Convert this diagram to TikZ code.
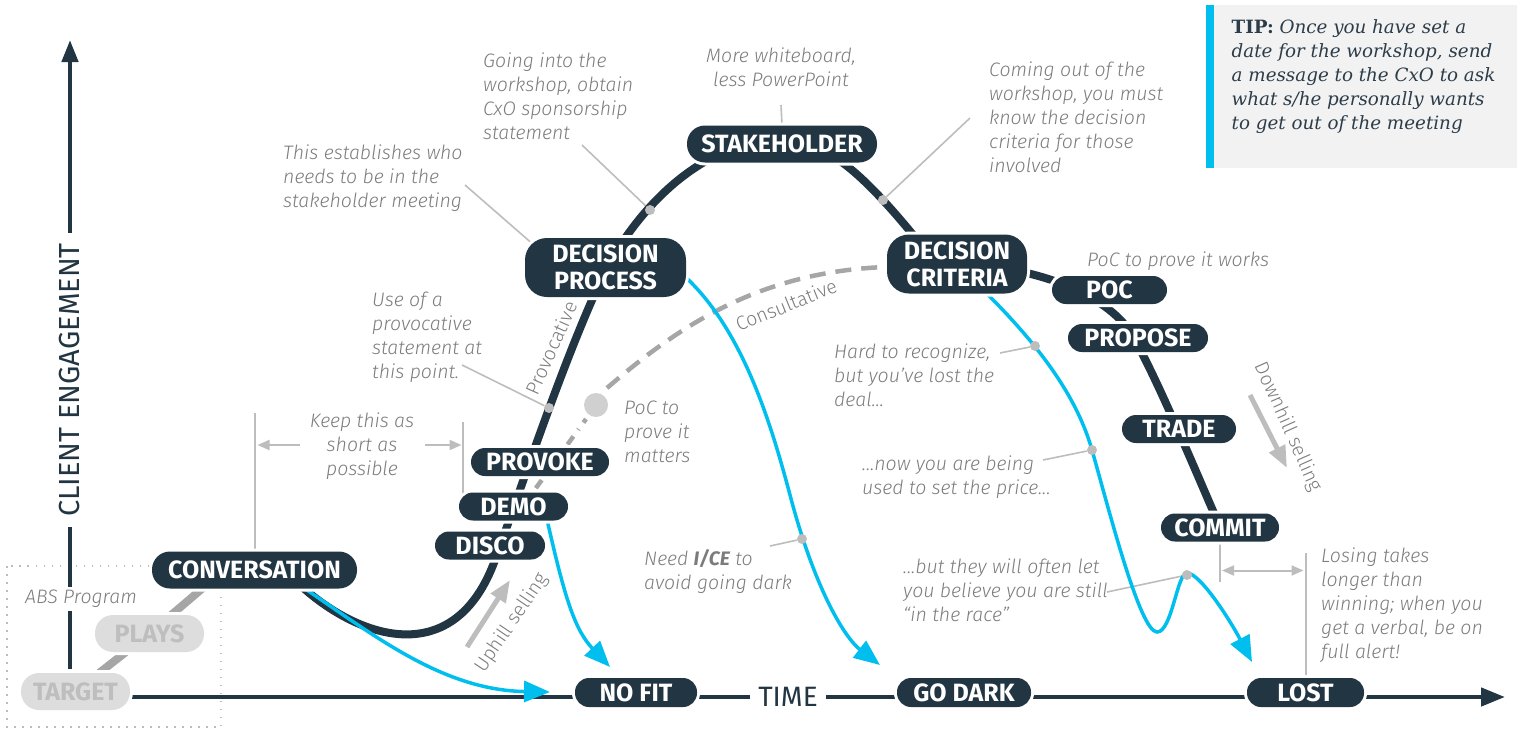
\documentclass[tikz,border=0pt]{standalone}
\usepackage{fontspec}
\setmainfont{Fira Sans}
\newfontfamily\lightfont{Fira Sans Light}[ItalicFont={Fira Sans Light Italic},BoldItalicFont={Fira Sans Bold Italic}]
\newfontfamily\tipfont{DejaVu Serif}
\usetikzlibrary{arrows.meta}

\definecolor{navy}{HTML}{223542}
\definecolor{cyanline}{HTML}{00BFEF}
\definecolor{notegray}{HTML}{7C7C7C}
\definecolor{leadgray}{HTML}{BDBDBD}
\definecolor{pathgray}{HTML}{A6A6A6}
\definecolor{ghostfill}{HTML}{DDDDDD}
\definecolor{ghosttext}{HTML}{BEBEBE}
\definecolor{tipbg}{HTML}{F2F2F2}
\definecolor{tipink}{HTML}{2C3C48}
\definecolor{dotgray}{HTML}{D0D0D0}

\newcommand\stagefont{\fontsize{25}{27}\selectfont\bfseries}
\newcommand\notefont{\lightfont\itshape\fontsize{19.5}{24}\selectfont}
\newcommand\tagfont{\lightfont\fontsize{19.5}{24}\selectfont}

\pgfdeclarelayer{back}
\pgfdeclarelayer{lines}
\pgfsetlayers{back,lines,main}

\tikzset{
  stage/.style={fill=navy, text=white, font=\stagefont, rounded corners=14pt,
    minimum height=28pt, inner sep=0pt, align=center,
    preaction={draw=white, line width=6pt}},
  tallstage/.style={stage, minimum height=37pt, rounded corners=18pt},
  twostage/.style={stage, minimum height=59pt, rounded corners=22pt},
  ghost/.style={tallstage, fill=ghostfill, text=ghosttext},
  journey/.style={draw=navy, line width=8pt},
  absline/.style={draw=pathgray, line width=8pt},
  loss/.style={draw=cyanline, line width=3.5pt, -{Triangle[length=26pt,width=21pt]}},
  axisline/.style={draw=navy, line width=4.5pt},
  leader/.style={draw=leadgray, line width=1.6pt},
  bracket/.style={draw=leadgray, line width=2pt},
  bracketarrow/.style={bracket, -{Triangle[length=12pt,width=10pt]}},
  hillarrow/.style={draw=leadgray, line width=5pt, -{Triangle[length=22pt,width=17pt]}},
  consult/.style={draw=pathgray, line width=4.5pt, dash pattern=on 16pt off 10pt},
  consultdot/.style={draw=pathgray, line width=4.5pt, dash pattern=on 10pt off 8pt on 1pt off 8pt},
  dot/.style={circle, fill=leadgray, inner sep=0pt, minimum size=10pt},
  bigdot/.style={circle, fill=dotgray, inner sep=0pt, minimum size=24pt},
  note/.style={font=\notefont, text=notegray, align=left, inner sep=0pt, anchor=north west},
  tag/.style={font=\tagfont, text=notegray, inner sep=0pt},
  absframe/.style={draw=leadgray, line width=1.5pt, dash pattern=on 1.5pt off 6.5pt},
}

\begin{document}
\begin{tikzpicture}[x=1pt,y=-1pt]
\useasboundingbox (0,0) rectangle (1517,728);

% ---------- tip panel ----------
\fill[tipbg] (1206,5) rectangle (1517,168);
\fill[cyanline] (1206,5) rectangle (1214,168);
\node[anchor=north west, inner sep=0pt, align=left, text=tipink,
      font=\tipfont\itshape\fontsize{18.3}{24}\selectfont] (tip) at (1231.5,16.5)
  {\strut\textbf{\upshape TIP:} Once you have set a\\date for the workshop, send\\a message to the CxO to ask\\what s/he personally wants\\to get out of the meeting};

% ---------- stages ----------
\node[ghost, minimum width=109pt] (target) at (75.5,691.5) {TARGET};
\node[ghost, minimum width=109pt] (plays) at (149.5,633.5) {PLAYS};
\node[tallstage, minimum width=205pt] (conv) at (254.5,570) {CONVERSATION};
\node[stage, minimum width=110pt] (disco) at (490,545.5) {DISCO};
\node[stage, minimum width=109pt] (demo) at (513.5,506.5) {DEMO};
\node[stage, minimum width=138pt] (provoke) at (540,462) {PROVOKE};
\node[twostage, minimum width=161pt] (dp) at (605.5,267.5) {DECISION\\PROCESS};
\node[tallstage, minimum width=190pt] (stake) at (782,144) {STAKEHOLDER};
\node[twostage, minimum width=140pt] (dc) at (957,264) {DECISION\\CRITERIA};
\node[stage, minimum width=115pt] (poc) at (1109.5,290) {POC};
\node[stage, minimum width=140pt] (propose) at (1138,338) {PROPOSE};
\node[stage, minimum width=114pt] (trade) at (1179,429) {TRADE};
\node[stage, minimum width=118pt] (commit) at (1220,527.5) {COMMIT};
\node[stage, minimum width=122pt, minimum height=29pt] (nofit) at (636,692.5) {NO FIT};
\node[stage, minimum width=134pt, minimum height=29pt] (godark) at (964,692.5) {GO DARK};
\node[stage, minimum width=117pt, minimum height=29pt] (lost) at (1305.5,692.5) {LOST};

% ---------- markers ----------
\node[dot] (m-going) at (650,210) {};
\node[dot] (m-coming) at (883,200) {};
\node[dot] (m-use) at (549,408) {};
\node[dot] (m-ice) at (802,539) {};
\node[dot] (m-hard) at (1035,346) {};
\node[dot] (m-now) at (1092,450) {};
\node[dot] (m-but) at (1187,575) {};
\node[bigdot] (pocdot) at (596,405) {};

% ---------- axes ----------
\coordinate (xstart) at (130,697);
\coordinate (xend) at (1505,697);
\coordinate (ystart) at (70,669);
\coordinate (yend) at (70,40);
\node[fill=white, rotate=90, inner xsep=10pt, inner ysep=2pt, text=navy,
      font=\fontsize{29}{32}\selectfont] (ylabel) at (70,380) {CLIENT ENGAGEMENT};
\node[fill=white, anchor=base, inner xsep=8pt, inner ysep=2pt, text=navy,
      font=\fontsize{28}{32}\selectfont] (time) at (788,706) {TIME};

% ---------- notes ----------
\node[note] (n-going) at (483,50.2) {\strut Going into the\\workshop, obtain\\CxO sponsorship\\statement};
\node[note, anchor=north, align=center] (n-board) at (781,45.2) {\strut More whiteboard,\\less PowerPoint};
\node[note] (n-who) at (283,142.5) {\strut This establishes who\\needs to be in the\\stakeholder meeting};
\node[note] (n-coming) at (989,59.9) {\strut Coming out of the\\workshop, you must\\know the decision\\criteria for those\\involved};
\node[note] (n-use) at (372,289.9) {\strut Use of a\\provocative\\statement at\\this point.};
\node[note, anchor=north, align=center] (n-keep) at (362,410.9) {\strut Keep this as\\short as\\possible};
\node[note] (n-matters) at (624,397.5) {\strut PoC to\\prove it\\matters};
\node[note] (n-works) at (1087,249.9) {\strut PoC to prove it works};
\node[note] (n-hard) at (834,341.5) {\strut Hard to recognize,\\but you’ve lost the\\deal...};
\node[note] (n-now) at (862,453.2) {\strut ...now you are being\\used to set the price...};
\node[note] (n-but) at (903,556.5) {\strut ...but they will often let\\you believe you are still\\“in the race”};
\node[note] (n-ice) at (644,548.2) {\strut Need \textbf{I/CE} to\\avoid going dark};
\node[note] (n-losing) at (1321,545.9) {\strut Losing takes\\longer than\\winning; when you\\get a verbal, be on\\full alert!};
\node[note, fill=white] (n-abs) at (25,586.5) {\strut ABS Program};

\node[tag, rotate=66] (t-prov) at (551,348) {Provocative};
\node[tag, rotate=22] (t-cons) at (786,305) {Consultative};
\node[tag, rotate=56] (t-up) at (512,623) {Uphill selling};
\node[tag, rotate=-66] (t-down) at (1288,427) {Downhill selling};

% ---------- connectors and curves ----------
\begin{pgfonlayer}{back}
  \draw[absframe] (7,566) rectangle (221,727);
  \draw[axisline, -{Triangle[length=24pt,width=18pt]}] (xstart) -- (xend);
  \draw[axisline, -{Triangle[length=22pt,width=16pt]}] (ystart) -- (yend);
\end{pgfonlayer}

\begin{pgfonlayer}{lines}
  % leader lines to the notes
  \draw[leader] (582,145) -- (m-going);
  \draw[leader] (781,105) -- (stake.north);
  \draw[leader] (465,185) -- (535,246);
  \draw[leader] (970,118) -- (m-coming);
  \draw[leader] (462,365) -- (m-use);
  \draw[leader] (770,546) -- (m-ice);
  \draw[leader] (1000,353) -- (m-hard);
  \draw[leader] (1043,460) -- (m-now);
  \draw[leader] (1107,592) -- (m-but);

  % length brackets
  \draw[bracket] (conv.north) -- (254.5,413);
  \draw[bracket] (463,494) -- (463,422);
  \draw[bracketarrow] (300,445) -- (257.5,445);
  \draw[bracketarrow] (425,445) -- (461.5,445);
  \draw[bracket] (commit.south) -- (1220,582);
  \draw[bracket] (lost.north) -- (1305.5,553);
  \draw[bracket, {Triangle[length=12pt,width=10pt]}-{Triangle[length=12pt,width=10pt]}] (1222,570.5) -- (1303.5,570.5);

  % selling direction arrows
  \draw[hillarrow] (467,647) -- (510,580);
  \draw[hillarrow] (1250,395) -- (1287,468);

  % consultative route
  \draw[consultdot] (520,510) -- (586,419);
  \draw[consult] (607,388) .. controls (680,325) and (760,272) .. (885,267);

  % ABS programme feed
  \coordinate (absend) at (224,570);
  \draw[absline] (target) -- (plays) -- (absend);

  % main engagement journey
  \draw[journey] (300,585) .. controls (360,640) and (455,670) .. (495,560)
     .. controls (523,483) and (560,370) .. (600,282)
     .. controls (624,229) and (690,140) .. (782,140)
     .. controls (830,140) and (870,180) .. (935,262);
  \draw[journey] (1000,268) .. controls (1050,275) and (1100,295) .. (1125,325)
     .. controls (1145,349) and (1195,470) .. (1220,527);

  % exits from the journey
  \draw[loss] (295,582) .. controls (370,632) and (440,690) .. (550,692);
  \draw[loss] (546,515) .. controls (565,600) and (575,630) .. (610,667);
  \draw[loss] (675,268) .. controls (740,320) and (770,420) .. (790,495)
     .. controls (815,590) and (845,638) .. (880,665);
  \draw[loss] (975,282) .. controls (1030,335) and (1075,390) .. (1092,450)
     .. controls (1109,510) and (1140,632) .. (1157,632)
     .. controls (1172,632) and (1177,573) .. (1187,573)
     .. controls (1200,573) and (1230,620) .. (1252,662);
\end{pgfonlayer}
\end{tikzpicture}
\end{document}
